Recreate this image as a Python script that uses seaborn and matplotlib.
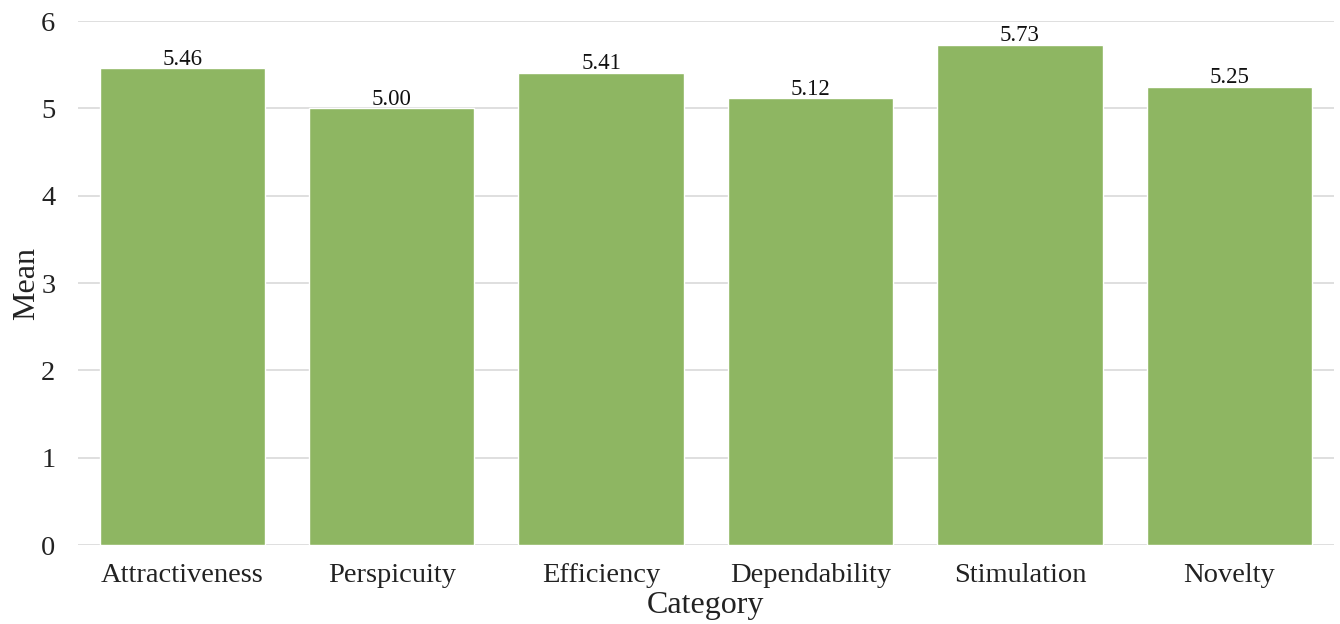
import matplotlib
matplotlib.use("Agg")
import matplotlib.pyplot as plt
import seaborn as sns
import pandas as pd

categories = ["Attractiveness", "Perspicuity", "Efficiency", "Dependability", "Stimulation", "Novelty"]
means = [5.46, 5.00, 5.41, 5.12, 5.73, 5.25]
y_ticks = [0, 1, 2, 3, 4, 5, 6]

sns.set_theme(style="whitegrid")
plt.rcParams["font.family"] = ["Liberation Serif", "DejaVu Serif"]

df = pd.DataFrame({"Category": categories, "Mean": means})

fig = plt.figure(figsize=(13.4, 6.24), dpi=100)
ax = fig.add_axes([0.058, 0.1266, 0.9375, 0.8397])

sns.barplot(data=df, x="Category", y="Mean", color="#8EB662", saturation=1,
            width=0.79, ax=ax)

for i, v in enumerate(means):
    ax.text(i, v - 0.02, f"{v:.2f}", ha="center", va="bottom", fontsize=16.5, color="#111111")

ax.set_ylim(0, 6)
ax.set_xlim(-0.5, len(categories) - 0.5)
ax.set_yticks(y_ticks)
ax.grid(axis="x", visible=False)
ax.grid(axis="y", color="#d9d9d9", linewidth=1.2)
ax.set_axisbelow(True)
for s in ax.spines.values():
    s.set_visible(False)
ax.tick_params(axis="both", length=0, labelsize=20.5, colors="#222222")
ax.tick_params(axis="x", pad=13)
ax.tick_params(axis="y", pad=16)
ax.set_xlabel("Category", fontsize=23, color="#222222", labelpad=2)
ax.set_ylabel("Mean", fontsize=23, color="#222222")
ax.yaxis.set_label_coords(-0.029, 0.5)

fig.savefig("out.png", dpi=100)
